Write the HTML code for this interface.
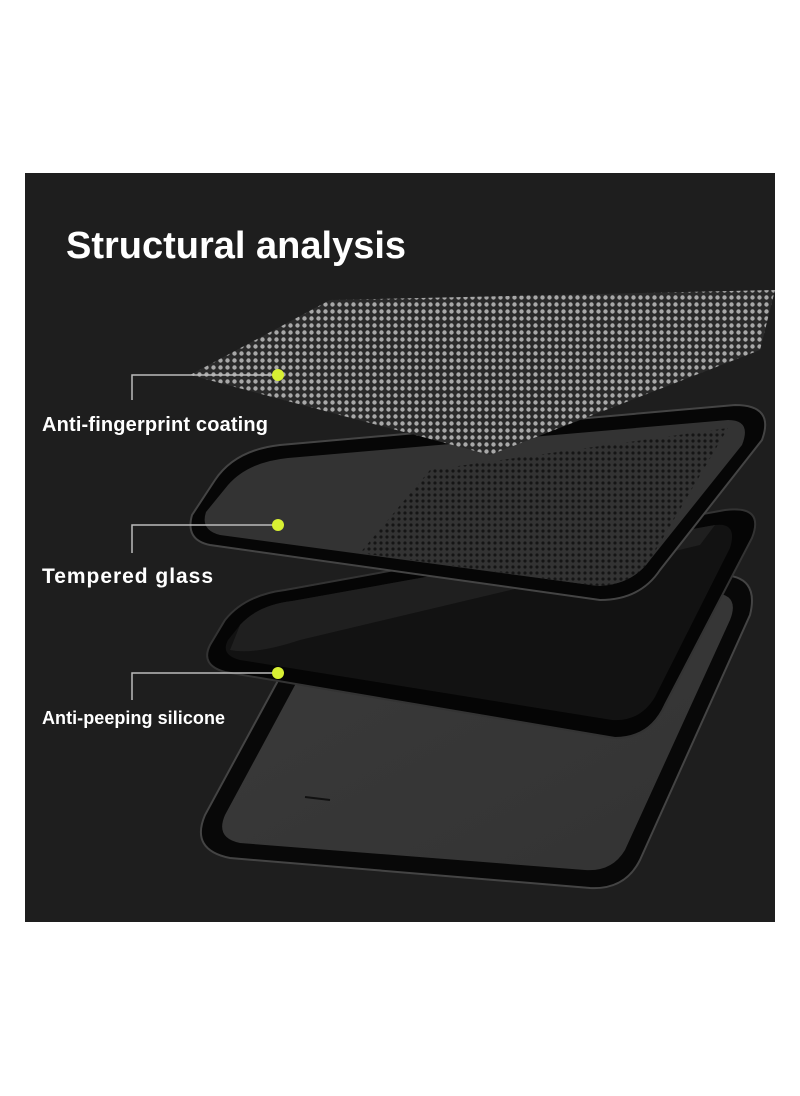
<!DOCTYPE html>
<html><head><meta charset="utf-8"><style>
html,body{margin:0;padding:0;background:#fff;width:800px;height:1096px;overflow:hidden}
svg{display:block}
text{font-family:"Liberation Sans",sans-serif;font-weight:bold;fill:#fff}
</style></head><body>
<svg width="800" height="1096" viewBox="0 0 800 1096">
<defs>
<pattern id="dots" width="7" height="7" patternUnits="userSpaceOnUse">
<rect width="7" height="7" fill="#2a2a2a"/><circle cx="3.5" cy="3.5" r="2.2" fill="#a8a8a8"/>
</pattern>
<pattern id="dots2" width="6" height="6" patternUnits="userSpaceOnUse">
<rect width="6" height="6" fill="#333"/><circle cx="3" cy="3" r="1.6" fill="#151515"/>
</pattern>
<linearGradient id="ph" x1="0" y1="0" x2="1" y2="1">
<stop offset="0" stop-color="#3a3a3a"/><stop offset="1" stop-color="#333"/>
</linearGradient>
</defs>
<rect x="25" y="173" width="750" height="749" fill="#1e1e1e"/>
<!-- phone -->
<path d="M300 640 Q330 605 380 600 L720 575 Q760 575 750 615 L640 860 Q625 890 590 888 L230 858 Q190 850 205 815 Z" fill="#080808" stroke="#444" stroke-width="2"/>
<path d="M315 648 Q340 620 385 615 L715 593 Q740 595 730 620 L625 850 Q612 872 585 870 L240 843 Q215 838 225 815 Z" fill="url(#ph)"/>
<line x1="305" y1="797" x2="330" y2="800" stroke="#111" stroke-width="2"/>
<!-- silicone layer -->
<path d="M225 620 Q245 595 285 590 L725 510 Q765 505 752 538 L665 705 Q650 738 615 738 L225 672 Q200 665 210 645 Z" fill="#050505" stroke="#333" stroke-width="2"/>
<path d="M240 625 Q258 605 292 601 L715 525 Q738 522 730 548 L655 697 Q640 722 612 720 L240 660 Q220 655 228 640 Z" fill="#121212"/>
<path d="M240 625 Q258 605 292 601 L715 525 L700 545 L300 640 Q255 655 230 650 Z" fill="#1f1f1f"/>
<!-- tempered glass -->
<path d="M215 480 Q235 450 280 445 L735 405 Q775 405 762 440 L660 570 Q640 600 600 600 L210 545 Q185 540 192 515 Z" fill="#060606" stroke="#444" stroke-width="2"/>
<path d="M228 485 Q248 462 288 458 L728 420 Q752 420 742 445 L650 560 Q632 585 598 586 L220 535 Q200 530 206 512 Z" fill="#333"/>
<path d="M430 470 L728 428 L650 560 Q632 585 598 586 L360 553 Z" fill="url(#dots2)"/>
<!-- mesh layer -->
<path d="M190 375 L330 300 L775 290 L760 350 L490 455 Z" fill="url(#dots)"/>
<!-- connectors -->
<g stroke="#bbb" stroke-width="1.5" fill="none">
<polyline points="132,400 132,375 278,375"/>
<polyline points="132,553 132,525 278,525"/>
<polyline points="132,700 132,673 278,673"/>
</g>
<circle cx="278" cy="375" r="6" fill="#d8f033"/>
<circle cx="278" cy="525" r="6" fill="#d8f033"/>
<circle cx="278" cy="673" r="6" fill="#d8f033"/>
<text x="66" y="258" font-size="38">Structural analysis</text>
<text x="42" y="431" font-size="20" textLength="226">Anti-fingerprint coating</text>
<text x="42" y="583" font-size="21" textLength="171">Tempered glass</text>
<text x="42" y="724" font-size="18" textLength="183">Anti-peeping silicone</text>
</svg>
</body></html>
